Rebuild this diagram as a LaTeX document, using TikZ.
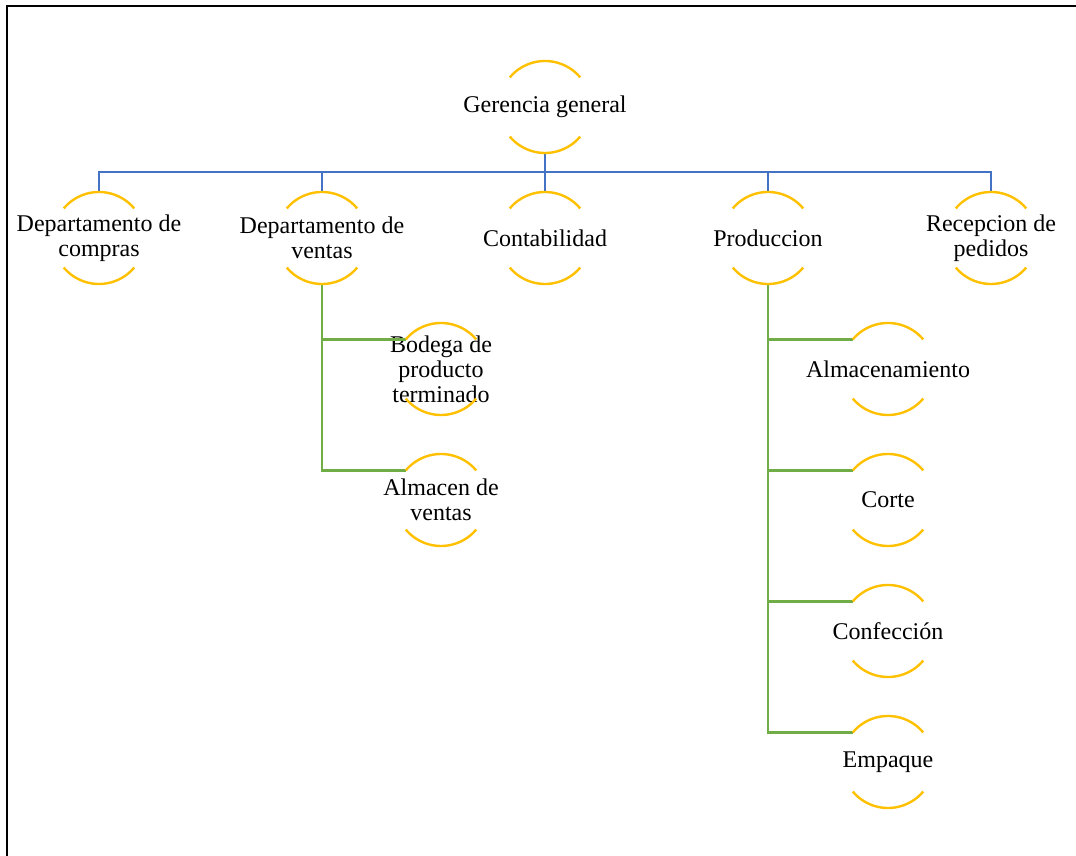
\documentclass[tikz,border=0pt]{standalone}
\usepackage{fontspec}
\setmainfont{Liberation Serif}

\definecolor{ringyellow}{HTML}{FFC000}
\definecolor{busblue}{HTML}{4472C4}
\definecolor{subgreen}{HTML}{70AD47}

\begin{document}
\begin{tikzpicture}[x=0.75pt,y=0.75pt,
    unit/.style={circle,minimum size=69pt,inner sep=0pt,outer sep=0pt},
    lbl/.style={font=\fontsize{18}{18.75}\selectfont,align=center,inner sep=0pt},
    ring/.style={draw=ringyellow,line width=1.8pt},
    busline/.style={draw=busblue,line width=1.7pt},
    subline/.style={draw=subgreen,line width=1.7pt}]
	\useasboundingbox (0,0) rectangle (1076,856);

	% frame (top and left edge only)
	\draw[line width=1.2pt] (7,0) -- (7,850) -- (1076,850);

	% top level
	\node[unit,label={[lbl]center:Gerencia general}] (ger) at (545,749) {};
	\coordinate (bus) at (545,684);

	% second level
	\node[unit,label={[lbl]center:{Departamento de\\compras}}] (com) at (99,618) {};
	\node[unit,label={[lbl]center:{Departamento de\\ventas}}] (ven) at (322,618) {};
	\node[unit,label={[lbl]center:Contabilidad}] (con) at (545,618) {};
	\node[unit,label={[lbl]center:Produccion}] (pro) at (768,618) {};
	\node[unit,label={[lbl]center:{Recepcion de\\pedidos}}] (rec) at (991,618) {};

	% under ventas
	\node[unit,label={[lbl]center:{Bodega de\\producto\\terminado}}] (bod) at (441,487) {};
	\node[unit,label={[lbl]center:{Almacen de\\ventas}}] (alv) at (441,356) {};

	% under produccion
	\node[unit,label={[lbl]center:Almacenamiento}] (alm) at (888,487) {};
	\node[unit,label={[lbl]center:Corte}] (cor) at (888,356) {};
	\node[unit,label={[lbl]center:Confección}] (conf) at (888,225) {};
	\node[unit,label={[lbl]center:Empaque}] (emp) at (888,94) {};

	% blue connectors
	\foreach \c in {com,ven,con,pro,rec}
		\draw[busline] (ger.south) -- (bus) -| (\c.north);

	% green connectors
	\foreach \c in {bod,alv}
		\draw[subline] (ven.south) |- (\c.140);
	\foreach \c in {alm,cor,conf,emp}
		\draw[subline] (pro.south) |- (\c.140);

	% the two arcs of every unit
	\foreach \n in {ger,com,ven,con,pro,rec,bod,alv,alm,cor,conf,emp}{
		\draw[ring] (\n.140) arc[start angle=140,end angle=40,radius=34.5pt];
		\draw[ring] (\n.220) arc[start angle=220,end angle=320,radius=34.5pt];
	}
\end{tikzpicture}
\end{document}
